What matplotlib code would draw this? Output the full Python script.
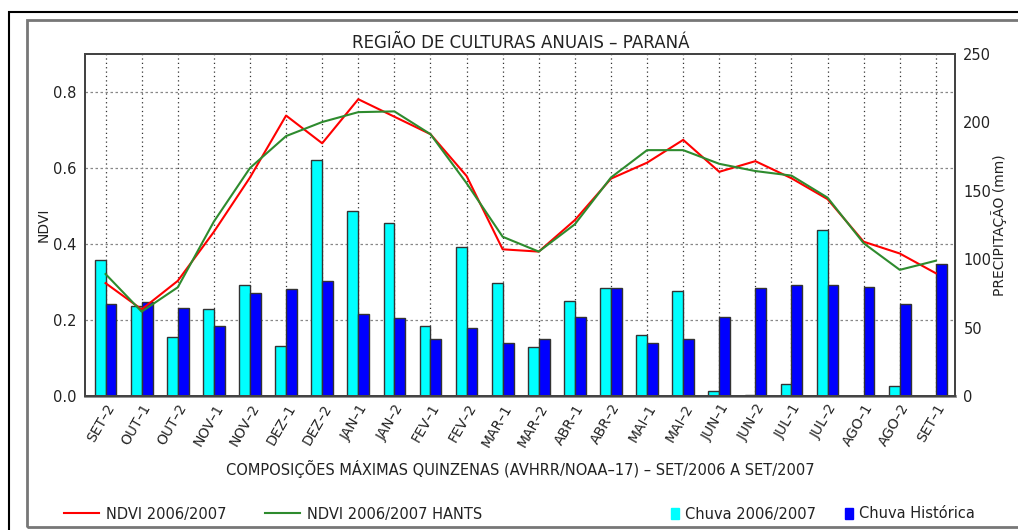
import matplotlib
matplotlib.use('Agg')
import matplotlib.pyplot as plt
from matplotlib.patches import Rectangle
from matplotlib.lines import Line2D
import numpy as np

quinzenas = ['SET–2', 'OUT–1', 'OUT–2', 'NOV–1', 'NOV–2', 'DEZ–1', 'DEZ–2',
             'JAN–1', 'JAN–2', 'FEV–1', 'FEV–2', 'MAR–1', 'MAR–2', 'ABR–1',
             'ABR–2', 'MAI–1', 'MAI–2', 'JUN–1', 'JUN–2', 'JUL–1', 'JUL–2',
             'AGO–1', 'AGO–2', 'SET–1']

ndvi = [0.297, 0.228, 0.303, 0.432, 0.575, 0.738, 0.665, 0.781, 0.735,
        0.689, 0.579, 0.386, 0.380, 0.463, 0.572, 0.614, 0.674, 0.590,
        0.618, 0.573, 0.518, 0.406, 0.375, 0.323]
ndvi_hants = [0.321, 0.222, 0.286, 0.459, 0.600, 0.684, 0.721, 0.747, 0.749,
              0.689, 0.560, 0.419, 0.380, 0.452, 0.575, 0.647, 0.647, 0.611,
              0.592, 0.580, 0.522, 0.402, 0.332, 0.356]

chuva = [99.2, 65.8, 43.1, 63.6, 81.4, 36.5, 172.3, 135.0, 126.2, 50.9,
         109.1, 82.4, 36.1, 69.2, 79.0, 44.3, 76.8, 3.7, 0.5, 9.0, 121.1,
         0.3, 7.1, 0.0]
chuva_hist = [67.3, 68.5, 64.3, 50.9, 75.5, 78.5, 83.8, 59.7, 56.8, 41.9,
              49.5, 39.0, 41.9, 58.0, 79.0, 39.0, 41.9, 58.0, 79.2, 81.4,
              80.9, 79.7, 67.3, 96.7]

txt = '#222222'
plt.rcParams['font.family'] = 'DejaVu Sans'

fig = plt.figure(figsize=(10.18, 5.30), dpi=100)

# molduras
fig.add_artist(Rectangle((9 / 1018, -0.1), 1.2, 1 - 12 / 530 + 0.1,
                         transform=fig.transFigure, fill=False,
                         edgecolor='black', lw=1.5))
fig.add_artist(Rectangle((27 / 1018, 3 / 530), 1.2, 1 - 23 / 530,
                         transform=fig.transFigure, fill=False,
                         edgecolor='#777777', lw=2))

pos = [85 / 1018, 1 - 396 / 530, 870 / 1018, 342 / 530]
ax = fig.add_axes(pos)
x = np.arange(len(quinzenas))
w = 0.3

ax.set_xlim(-0.57, 23.53)
ax.set_ylim(0, 0.9)
ax.set_yticks([0.0, 0.2, 0.4, 0.6, 0.8])
ax.set_yticklabels(['0.0', '0.2', '0.4', '0.6', '0.8'])
ax.set_xticks(x)
ax.set_xticklabels(quinzenas, rotation=60, ha='right', rotation_mode='anchor',
                   fontsize=10, color=txt)
ax.tick_params(axis='y', labelsize=10.5, colors=txt, direction='in', length=0,
               pad=6)
ax.tick_params(axis='x', direction='in', length=0, pad=4)
ax.grid(axis='y', color='#888888', linestyle=(0, (2, 2)), lw=0.9)
ax.grid(axis='x', color='#333333', linestyle=(0, (1, 2.5)), lw=0.9)
ax.set_ylabel('NDVI', fontsize=10, color=txt, labelpad=2)
ax.set_xlabel('COMPOSIÇÕES MÁXIMAS QUINZENAS (AVHRR/NOAA–17) – SET/2006 A SET/2007',
              fontsize=10.5, color=txt, labelpad=8)

ax2 = ax.twinx()
ax2.bar(x - w / 2, chuva, width=w, color='#00FFFF', edgecolor='#333333', lw=1)
ax2.bar(x + w / 2, chuva_hist, width=w, color='#0000FF', edgecolor='#333333', lw=1)
ax2.set_ylim(0, 250)
ax2.set_yticks([0, 50, 100, 150, 200, 250])
ax2.tick_params(axis='y', labelsize=10.5, colors=txt, length=0, pad=6)
ax2.set_ylabel('PRECIPITAÇÃO (mm)', fontsize=10, color=txt, labelpad=0)

ax3 = ax.twinx()
ax3.set_ylim(0, 0.9)
ax3.set_yticks([])
ax3.plot(x, ndvi, color='#FF0000', lw=1.5)
ax3.plot(x, ndvi_hants, color='#2E8B2E', lw=1.5)

for a in (ax, ax2, ax3):
    for s in a.spines.values():
        s.set_color('#444444')
        s.set_linewidth(1.3)
ax.spines['bottom'].set_color('#888888')
ax.spines['bottom'].set_linewidth(2)

fig.text(0.512, 1 - 43 / 530, 'REGIÃO DE CULTURAS ANUAIS – PARANÁ',
         ha='center', va='center', fontsize=12, color=txt)

h_lin = [Line2D([], [], color='#FF0000', lw=1.5),
         Line2D([], [], color='#2E8B2E', lw=1.5)]
fig.legend(h_lin, ['NDVI 2006/2007', 'NDVI 2006/2007 HANTS'], ncol=2,
           loc='center left', bbox_to_anchor=(51 / 1018, 1 - 514 / 530),
           frameon=False, fontsize=10.5, handlelength=2.4, handletextpad=0.5,
           columnspacing=2.6, labelcolor=txt)
h_bar = [Rectangle((0, 0), 1, 1, color='#00FFFF'),
         Rectangle((0, 0), 1, 1, color='#0000FF')]
fig.legend(h_bar, ['Chuva 2006/2007', 'Chuva Histórica'], ncol=2,
           loc='center right', bbox_to_anchor=(988 / 1018, 1 - 514 / 530),
           frameon=False, fontsize=10.5, handlelength=0.55, handleheight=0.75,
           handletextpad=0.4, columnspacing=2.0, labelcolor=txt)

fig.savefig('out.png', dpi=100)
